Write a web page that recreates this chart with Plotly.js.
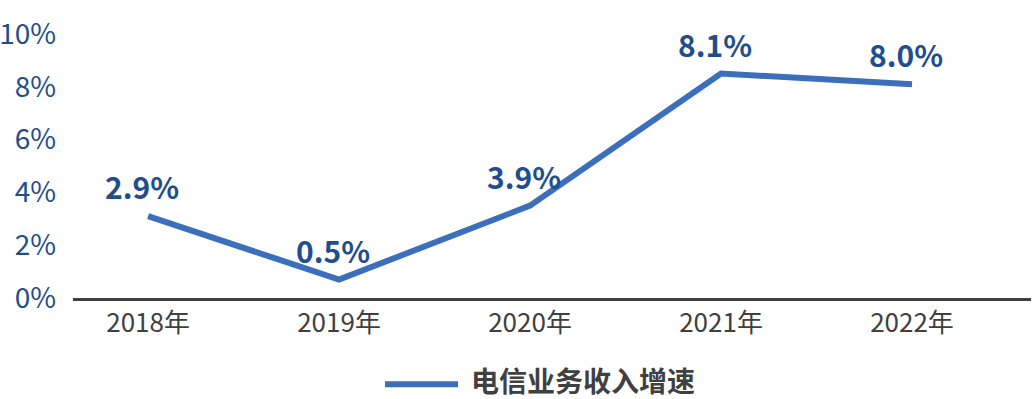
<!DOCTYPE html>
<html>
<head>
<meta charset="utf-8">
<script src="https://cdn.plot.ly/plotly-3.0.1.min.js"></script>
<style>html,body{margin:0;padding:0;background:#fff;}#chart{width:1034px;height:399px;}</style>
</head>
<body>
<div id="chart"></div>
<script>
const years = ['2018年', '2019年', '2020年', '2021年', '2022年'];
const growth = [3.1, 0.7, 3.5, 8.5, 8.1];
const growthLabels = ['2.9%', '0.5%', '3.9%', '8.1%', '8.0%'];
const seriesName = '电信业务收入增速';
const yTicks = [0, 2, 4, 6, 8, 10];
const yTickText = ['0%', '2%', '4%', '6%', '8%', '10%'];

const FONT = '"Noto Sans CJK SC", "Noto Sans", sans-serif';
const LINE = '#3B6FBB';
const LABEL = '#1F4E8C';

const trace = {
  x: years, y: growth, type: 'scatter', mode: 'lines', name: seriesName,
  line: {color: LINE, width: 6}, showlegend: false, hoverinfo: 'skip'
};

const annotations = years.map((c, i) => ({
  x: c, y: growth[i], xref: 'x', yref: 'y', text: growthLabels[i],
  showarrow: false, yanchor: 'middle', yshift: 30, xshift: -6,
  font: {family: FONT, size: 30, color: LABEL, weight: 'bold'}
}));
annotations.push({
  xref: 'paper', yref: 'paper', x: 0.413, y: -0.311, xanchor: 'left', yanchor: 'middle',
  text: '<b>' + seriesName + '</b>', showarrow: false,
  font: {family: FONT, size: 28, color: '#404040'}
});

const layout = {
  width: 1034, height: 399,
  margin: {l: 73, r: 3, t: 34, b: 101},
  paper_bgcolor: '#ffffff', plot_bgcolor: '#ffffff',
  font: {family: FONT},
  xaxis: {
    type: 'category', range: [-0.393, 4.623], showgrid: false, zeroline: false,
    showline: true, linecolor: '#404040', linewidth: 3, ticks: '',
    tickfont: {family: FONT, size: 26, color: '#404040'}, ticklabelstandoff: 0
  },
  yaxis: {
    range: [0, 10], tickvals: yTicks, ticktext: yTickText, showgrid: false,
    zeroline: false, showline: false, ticks: '', ticklabelstandoff: 16,
    tickfont: {family: FONT, size: 28, color: LABEL}
  },
  shapes: [{
    type: 'line', xref: 'paper', yref: 'paper', x0: 0.3257, x1: 0.4019, y0: -0.327, y1: -0.327,
    line: {color: LINE, width: 6}
  }],
  annotations: annotations,
  showlegend: false
};

Plotly.newPlot('chart', [trace], layout, {displayModeBar: false, staticPlot: true});
</script>
</body>
</html>
